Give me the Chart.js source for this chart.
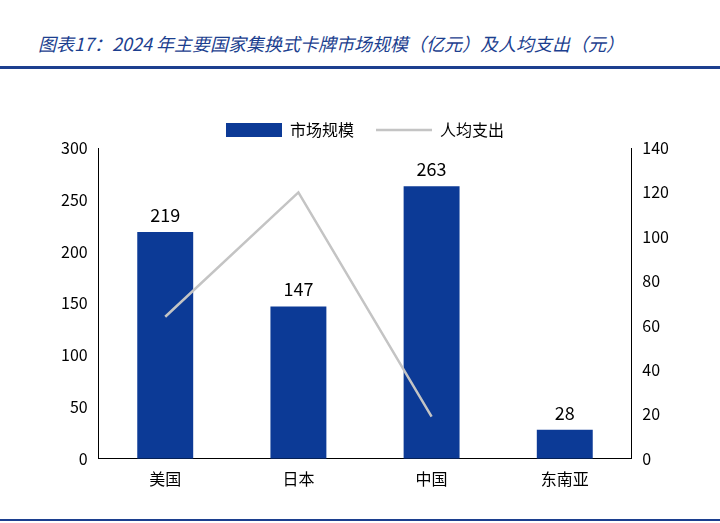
<!DOCTYPE html>
<html><head><meta charset="utf-8">
<script src="https://cdn.jsdelivr.net/npm/chart.js@4"></script>
<style>
body{margin:0;width:720px;height:523px;background:#fff;position:relative;overflow:hidden;font-family:"Noto Sans CJK SC",sans-serif}
#title{position:absolute;left:38px;top:30px;color:#1c3f8f;font-size:18px;font-style:italic;}
#l1{position:absolute;left:0;top:66px;width:720px;height:3px;background:#1c3f8f}
#l2{position:absolute;left:0;top:519px;width:720px;height:2px;background:#1c3f8f}
#box{position:absolute;left:20px;top:100px;width:690px;height:392px}
</style></head><body>
<div id="title">图表17：2024 年主要国家集换式卡牌市场规模（亿元）及人均支出（元）</div>
<div id="l1"></div><div id="l2"></div>
<div id="box"><canvas id="c"></canvas></div>
<script>
const categories = ['美国', '日本', '中国', '东南亚'];
const marketSize = [219, 147, 263, 28];
const perCapita = [64, 120, 19, null];

const barLabels = {
  id: 'barLabels',
  afterDatasetsDraw(chart) {
    const ctx = chart.ctx;
    const meta = chart.getDatasetMeta(0);
    ctx.save();
    ctx.font = '18px "Noto Sans CJK SC", sans-serif';
    ctx.fillStyle = '#000';
    ctx.textAlign = 'center';
    ctx.textBaseline = 'bottom';
    meta.data.forEach((b, i) => ctx.fillText(marketSize[i], b.x, b.y - 8));
    ctx.restore();
  }
};

const font = { family: '"Noto Sans CJK SC", sans-serif', size: 16 };
new Chart(document.getElementById('c'), {
  data: {
    labels: categories,
    datasets: [
      { type: 'bar', label: '市场规模', data: marketSize, backgroundColor: '#0c3a96', yAxisID: 'y', barPercentage: 0.42, categoryPercentage: 1, order: 2, pointStyle: 'rect' },
      { type: 'line', label: '人均支出', data: perCapita, borderColor: '#c4c4c4', backgroundColor: '#c4c4c4', borderWidth: 2.5, pointRadius: 0, yAxisID: 'y1', order: 1, pointStyle: 'line' }
    ]
  },
  options: {
    responsive: true, maintainAspectRatio: false, animation: false,
    layout: { padding: { left: 38, right: 38, top: 0, bottom: 0 } },
    plugins: {
      legend: { labels: { font: font, color: '#000', usePointStyle: true, pointStyleWidth: 56, boxHeight: 14, padding: 22,
                          sort: (a, b) => a.datasetIndex - b.datasetIndex } },
      tooltip: { enabled: false }
    },
    scales: {
      x: { grid: { display: false }, border: { color: '#000' }, ticks: { font: font, color: '#000' } },
      y: { position: 'left', min: 0, max: 300, ticks: { stepSize: 50, font: font, color: '#000' },
           grid: { display: false }, border: { color: '#000' } },
      y1: { position: 'right', min: 0, max: 140, ticks: { stepSize: 20, font: font, color: '#000' },
            grid: { display: false }, border: { color: '#000' } }
    }
  },
  plugins: [barLabels]
});
</script>
</body></html>
